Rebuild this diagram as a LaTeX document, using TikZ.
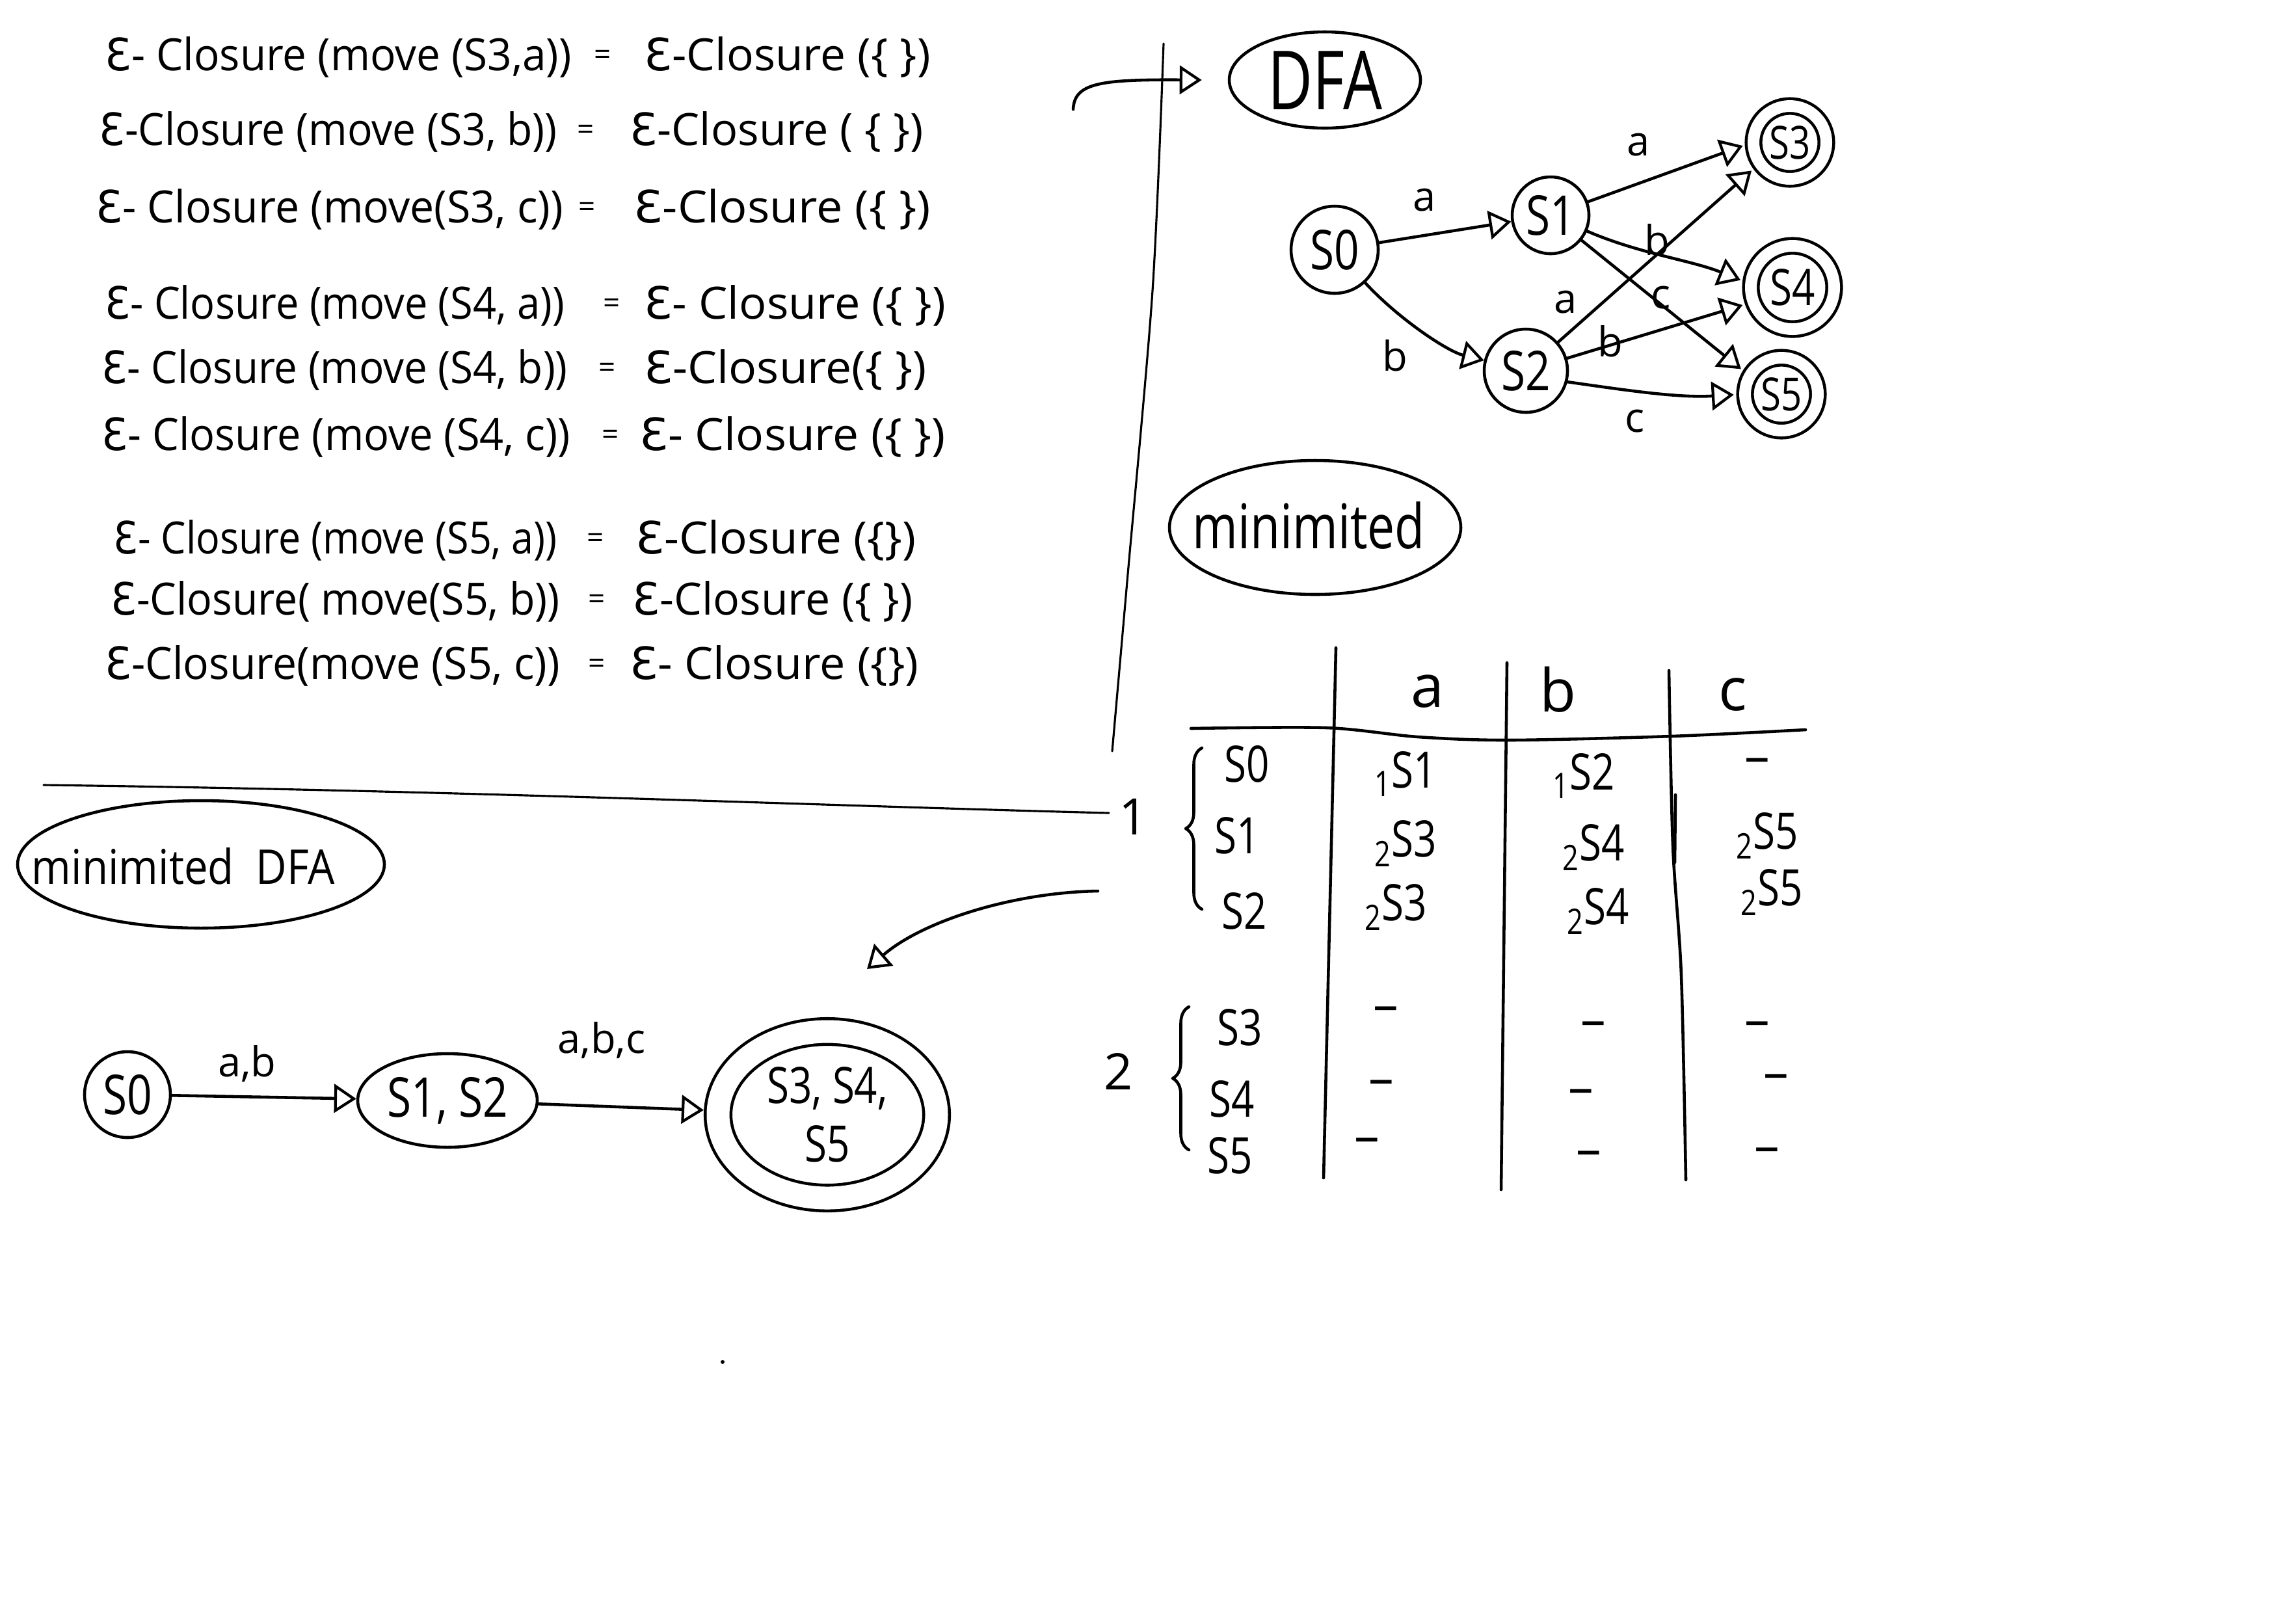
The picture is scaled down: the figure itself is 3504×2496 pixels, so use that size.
\documentclass[tikz,border=0pt]{standalone}
\usepackage{fontspec}
\setmainfont{Open Sans}
\newfontfamily\djv{DejaVu Sans}
\usepackage{graphicx}
\usetikzlibrary{arrows.meta,shapes.geometric,decorations.pathreplacing}
\newcommand{\openE}{{\djv Ɛ}}
\newcommand{\nrw}[1]{\scalebox{0.8}[1]{#1}}
\newcommand{\eqsign}{{\fontsize{13}{13}\selectfont =}}
\newcommand{\eqrow}[9]{%
  \node[anchor=west,inner sep=0pt] (#1l) at (#3,#2) {\resizebox{#4mm}{5.2mm}{#5}};
  \node[inner sep=0pt] (#1e) at (#6,#2) {\eqsign};
  \node[anchor=west,inner sep=0pt] (#1r) at (#7,#2) {\resizebox{#8mm}{5.2mm}{#9}};
}
\begin{document}
\begin{tikzpicture}[x=0.1mm,y=-0.1mm,
  ink/.style={line width=1.3pt, line cap=round, line join=round},
  thinink/.style={line width=0.9pt, line cap=round, line join=round},
  tip/.style={-{Triangle[open,length=3.4mm,width=4.4mm,line width=1.2pt]}},
  state/.style={circle, draw, ink, inner sep=0pt},
  accept/.style={circle, draw, ink, double, double distance=1.8mm, inner sep=0pt},
  hand/.style={inner sep=0pt, font=\fontsize{22}{25}\selectfont},
  lbl/.style={inner sep=0pt, font=\fontsize{18}{20}\selectfont},
]
\fill[white] (0,0) rectangle (3504,2496);
\useasboundingbox (0,0) rectangle (3504,2496);

% ---------- epsilon-closure equations ----------
\eqrow{e1}{88}{161}{71.7}{\openE- Closure (move (S3,a))}{927}{990}{44.0}{\openE-Closure (\{ \})}
\eqrow{e2}{203}{152}{70.4}{\openE-Closure (move (S3, b))}{901}{968}{45.1}{\openE-Closure ( \{ \})}
\eqrow{e3}{322}{147}{71.8}{\openE- Closure (move(S3, c))}{903}{974}{45.6}{\openE-Closure (\{ \})}
\eqrow{e4}{470}{161}{70.6}{\openE- Closure (move (S4, a))}{941}{990}{46.3}{\openE- Closure (\{ \})}
\eqrow{e5}{569}{156}{71.6}{\openE- Closure (move (S4, b))}{934}{990}{43.4}{\openE-Closure(\{ \})}
\eqrow{e6}{672}{156}{72.0}{\openE- Closure (move (S4, c))}{939}{983}{47.0}{\openE- Closure (\{ \})}
\eqrow{e7}{831}{174}{68.2}{\openE- Closure (move (S5, a))}{916}{977}{43.1}{\openE-Closure (\{\})}
\eqrow{e8}{925}{170}{69.0}{\openE-Closure( move(S5, b))}{918}{972}{43.1}{\openE-Closure (\{ \})}
\eqrow{e9}{1024}{161}{69.9}{\openE-Closure(move (S5, c))}{918}{968}{44.4}{\openE- Closure (\{\})}

% ---------- dividers ----------
\draw[thinink] plot[smooth] coordinates {(1789,67) (1772,447) (1733,894) (1710,1155)};
\draw[thinink] (67,1207) .. controls (700,1215) and (1300,1240) .. (1705,1250);

% ---------- DFA ----------
\node[draw, ellipse, ink, minimum width=29.4mm, minimum height=14.8mm, inner sep=0pt] (dfa) at (2037,123) {\resizebox{17.6mm}{9mm}{DFA}};
\coordinate (topstart) at (1650,168);
\draw[ink,tip] (topstart) .. controls (1652,128) and (1690,122) .. ([xshift=-4mm]dfa.west);

\node[state, minimum size=13.4mm] (s0) at (2052,384) {\nrw{\fontsize{24}{26}\selectfont S0}};
\node[state, minimum size=11.8mm] (s1) at (2384,331) {\nrw{\fontsize{24}{26}\selectfont S1}};
\node[state, minimum size=12.8mm] (s2) at (2346,570) {\nrw{\fontsize{24}{26}\selectfont S2}};
\node[accept, minimum size=11.2mm] (s3) at (2752,219) {\nrw{\fontsize{20}{22}\selectfont S3}};
\node[accept, minimum size=12.8mm] (s4) at (2756,442) {\nrw{\fontsize{22}{24}\selectfont S4}};
\node[accept, minimum size=11.2mm] (s5) at (2739,606) {\nrw{\fontsize{20}{22}\selectfont S5}};

\draw[ink,tip] (s0) -- (s1);
\draw[ink,tip] (s0) .. controls (2150,490) and (2225,540) .. (s2);
\draw[ink,tip,shorten >=1.5mm] (s1) -- (s3.180);
\draw[ink,tip,shorten >=1.5mm] (s1) .. controls (2520,390) and (2600,400) .. (s4.175);
\draw[ink,tip,shorten >=1.5mm] (s1) -- (s5.150);
\draw[ink,tip,shorten >=1.5mm] (s2) -- (s3.215);
\draw[ink,tip,shorten >=1.5mm] (s2) -- (s4.200);
\draw[ink,tip,shorten >=1.5mm] (s2.-15) .. controls (2500,600) and (2580,612) .. (s5.west);

\node[lbl] (l01) at (2190,308) {a};
\node[lbl] (l02) at (2145,547) {b};
\node[lbl] (l13) at (2519,223) {a};
\node[lbl] (l14) at (2548,369) {b};
\node[lbl] (l15) at (2554,458) {c};
\node[lbl] (l23) at (2407,465) {a};
\node[lbl] (l24) at (2476,525) {b};
\node[lbl] (l25) at (2514,648) {c};

% ---------- minimited label ----------
\node[inner sep=0pt] (mintitle) at (2012,808) {\resizebox{35.7mm}{7.2mm}{minimited}};
\draw[ink] (2022,811) ellipse [x radius=224, y radius=103];

% ---------- table ----------
\draw[ink] plot[smooth] coordinates {(1831,1120) (2040,1119) (2180,1133) (2320,1138) (2570,1132) (2776,1122)};
\draw[ink] (2054,996) -- (2035,1811);
\draw[ink] (2317,1019) -- (2308,1829);
\draw[ink] plot[smooth] coordinates {(2566,1031) (2572,1300) (2585,1500) (2592,1814)};
\draw[ink] (2576,1222) -- (2575,1326);

\node[hand, font=\fontsize{26}{28}\selectfont] (ha) at (2195,1063) {a};
\node[hand, font=\fontsize{26}{28}\selectfont] (hb) at (2395,1060) {b};
\node[hand, font=\fontsize{26}{28}\selectfont] (hc) at (2664,1068) {c};

\node[hand] (r0) at (1917,1175) {\nrw{S0}};
\node[hand] (r1) at (1902,1285) {\nrw{S1}};
\node[hand] (r2) at (1913,1401) {\nrw{S2}};
\node[hand] (r3) at (1906,1580) {\nrw{S3}};
\node[hand] (r4) at (1894,1690) {\nrw{S4}};
\node[hand] (r5) at (1891,1777) {\nrw{S5}};

\draw[ink, decorate, decoration={brace, amplitude=2.5mm}] (1848,1398) -- (1848,1150);
\draw[ink, decorate, decoration={brace, amplitude=2.5mm}] (1828,1768) -- (1828,1548);
\node[hand] (g1) at (1743,1256) {1};
\node[hand] (g2) at (1720,1647) {2};

\node[hand] (c00) at (2161,1190) {\nrw{\textsubscript{1}S1}};
\node[hand] (c01) at (2435,1193) {\nrw{\textsubscript{1}S2}};
\node[hand] (c02) at (2702,1178) {--};
\node[hand] (c10) at (2161,1297) {\nrw{\textsubscript{2}S3}};
\node[hand] (c11) at (2450,1303) {\nrw{\textsubscript{2}S4}};
\node[hand] (c12) at (2717,1285) {\nrw{\textsubscript{2}S5}};
\node[hand] (c20) at (2146,1395) {\nrw{\textsubscript{2}S3}};
\node[hand] (c21) at (2457,1401) {\nrw{\textsubscript{2}S4}};
\node[hand] (c22) at (2724,1372) {\nrw{\textsubscript{2}S5}};
\node[hand] (c30) at (2131,1560) {--};
\node[hand] (c31) at (2450,1583) {--};
\node[hand] (c32) at (2702,1583) {--};
\node[hand] (c40) at (2124,1673) {--};
\node[hand] (c41) at (2431,1687) {--};
\node[hand] (c42) at (2731,1664) {--};
\node[hand] (c50) at (2102,1762) {--};
\node[hand] (c51) at (2443,1782) {--};
\node[hand] (c52) at (2717,1777) {--};

% ---------- minimited DFA ----------
\node[inner sep=0pt] (mdfa) at (282,1332) {\resizebox{46.6mm}{5.6mm}{minimited\ \ DFA}};
\draw[ink] (309,1329) ellipse [x radius=282, y radius=98];

\coordinate (cstart) at (1688,1370);
\coordinate (cend) at (1333,1490);
\draw[ink,tip] (cstart) .. controls (1560,1372) and (1420,1415) .. (cend);

\node[state, minimum size=13.2mm] (m0) at (196,1683) {\nrw{\fontsize{24}{26}\selectfont S0}};
\node[draw, ellipse, ink, minimum width=27.6mm, minimum height=14.4mm, inner sep=0pt] (m12) at (688,1692) {\nrw{\fontsize{24}{26}\selectfont S1, S2}};
\node[draw, ellipse, ink, double, double distance=3.5mm, minimum width=33.6mm, minimum height=25.6mm, inner sep=0pt, align=center] (m345) at (1272,1714) {\nrw{\fontsize{22}{26}\selectfont S3, S4,}\\[6pt]\nrw{\fontsize{22}{26}\selectfont S5}};

\draw[ink,tip] (m0) -- (m12);
\draw[ink,tip,shorten >=2mm] (m12) -- (m345);
\node[lbl] (lm1) at (380,1636) {a,b};
\node[lbl] (lm2) at (925,1600) {a,b,c};

\fill (1111,2094) circle [radius=3];
\end{tikzpicture}
\end{document}
